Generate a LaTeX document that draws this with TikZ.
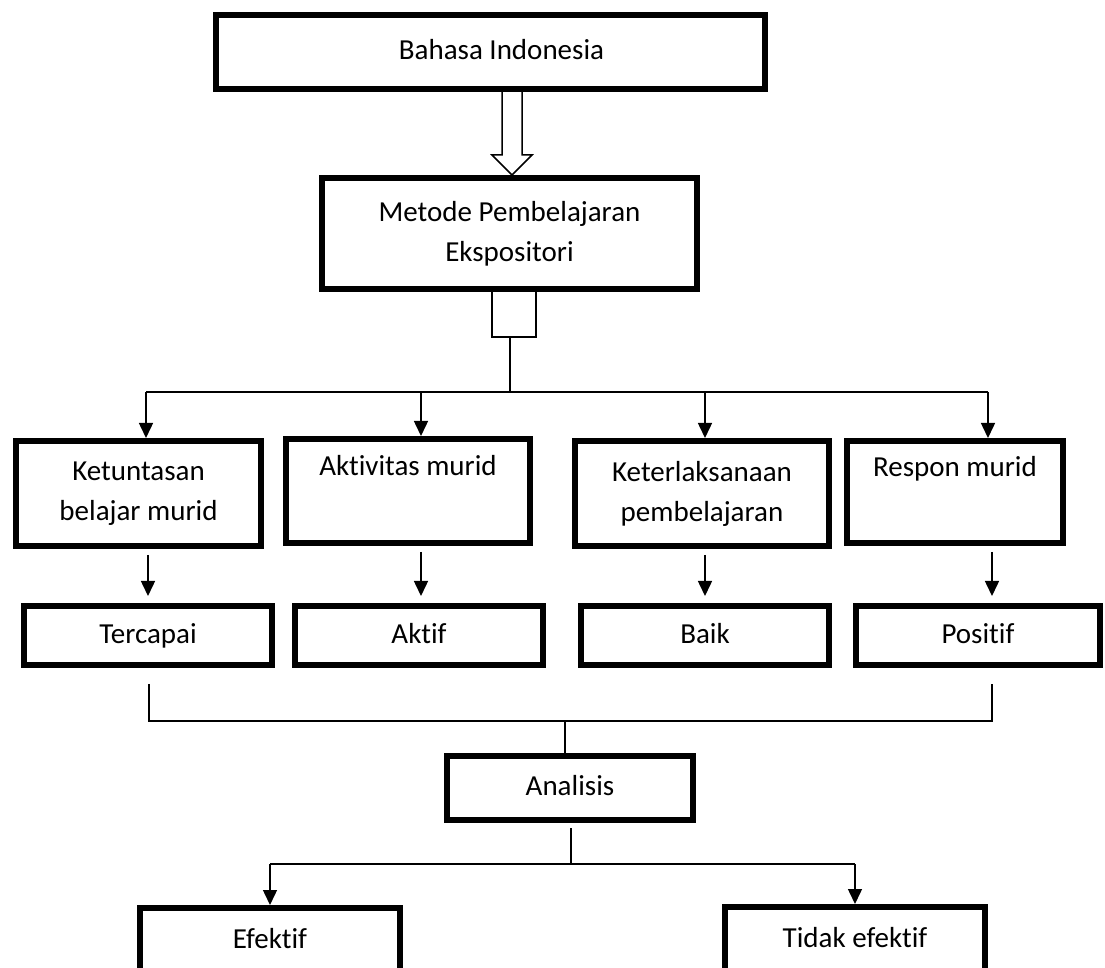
\documentclass[tikz,border=0pt]{standalone}
\usepackage{fontspec}
\setmainfont{Carlito}[Ligatures=NoCommon]
\usetikzlibrary{arrows.meta,calc}
\tikzset{
	kotak/.style={
		draw, line width=2.8pt, inner sep=0pt,
		align=center, font=\fontsize{14.5}{20}\selectfont,
	},
	garis/.style={
		draw, line width=0.75pt,
	},
	panah/.style={
		garis, -{Triangle[length=7.5pt,width=7pt]},
	}
}

\begin{document}
\begin{tikzpicture}[x=0.5pt,y=-0.5pt]
		\useasboundingbox (0,0) rectangle (1105,968);
		\clip (0,0) rectangle (1105,968);
		
		\node [kotak, minimum width=274.7pt, minimum height=37.2pt] (bahasa) at (490.5,52) {\hspace*{11pt}\raisebox{2.5pt}{Bahasa Indonesia}};
		\node [kotak, minimum width=187.7pt, minimum height=55.7pt] (metode) at (509.5,233.5) {Metode Pembelajaran\\Ekspositori};
		
		\node [kotak, minimum width=122.7pt, minimum height=52.7pt] (ketuntasan) at (138.5,493.5) {Ketuntasan\\belajar murid};
		\node [kotak, minimum width=122.2pt, minimum height=52.2pt] (aktivitas) at (408,491) {Aktivitas murid\\\strut};
		\node [kotak, minimum width=127.2pt, minimum height=52.7pt] (keterlaksanaan) at (702,493.5) {Keterlaksanaan\\pembelajaran};
		\node [kotak, minimum width=108.2pt, minimum height=51.2pt] (respon) at (955,492) {Respon murid\\\strut};
		
		\node [kotak, minimum width=124.2pt, minimum height=29.7pt] (tercapai) at (148,635.5) {\strut Tercapai};
		\node [kotak, minimum width=124.2pt, minimum height=29.7pt] (aktif) at (419,635.5) {\strut Aktif};
		\node [kotak, minimum width=124.2pt, minimum height=29.7pt] (baik) at (705,635.5) {\strut Baik};
		\node [kotak, minimum width=122.2pt, minimum height=29.7pt] (positif) at (978,635.5) {\strut Positif};
		
		\node [kotak, minimum width=123.2pt, minimum height=32.2pt] (analisis) at (570,788) {\strut Analisis};
		\node [kotak, minimum width=130.2pt, minimum height=32.2pt] (efektif) at (270,940) {\strut Efektif};
		\node [kotak, minimum width=130.2pt, minimum height=32.2pt] (tidak) at (855,939) {\strut Tidak efektif};
		
		% panah besar
		\path [garis] (502,0 |- bahasa.south) -- (502,155) -- (492,155) -- (512,0 |- metode.north) -- (532,155) -- (522,155) -- (522,0 |- bahasa.south);
		
		\path [garis] (492,0 |- metode.south) |- (536,337) -- (536,0 |- metode.south);
		\path [garis] (510,337) -- (510,392) coordinate (cabang);
		\path [garis] (146,392) -- (988,392);
		\foreach \x/\n in {146/ketuntasan, 421/aktivitas, 705/keterlaksanaan, 988/respon}
			\path [panah] (\x,392) -- (\x,0 |- \n.north);
		
		\foreach \x/\a/\b in {148/ketuntasan/tercapai, 421/aktivitas/aktif, 705/keterlaksanaan/baik, 992/respon/positif}
			\path [panah, shorten <=3pt, shorten >=3.5pt] (\x,0 |- \a.south) -- (\x,0 |- \b.north);
		
		\path [garis, shorten <=8pt, shorten >=8pt] (149,0 |- tercapai.south) |- (992,721) -- (992,0 |- positif.south);
		\path [garis] (565,721) coordinate (gabung) -- (565,0 |- analisis.north);
		
		\path [garis, shorten <=2.5pt] (571,0 |- analisis.south) -- (571,864) coordinate (pisah);
		\path [garis] (270,864) -- (855,864);
		\path [panah] (270,864) -- (efektif.north);
		\path [panah] (855,864) -- (tidak.north);
\end{tikzpicture}
\end{document}
